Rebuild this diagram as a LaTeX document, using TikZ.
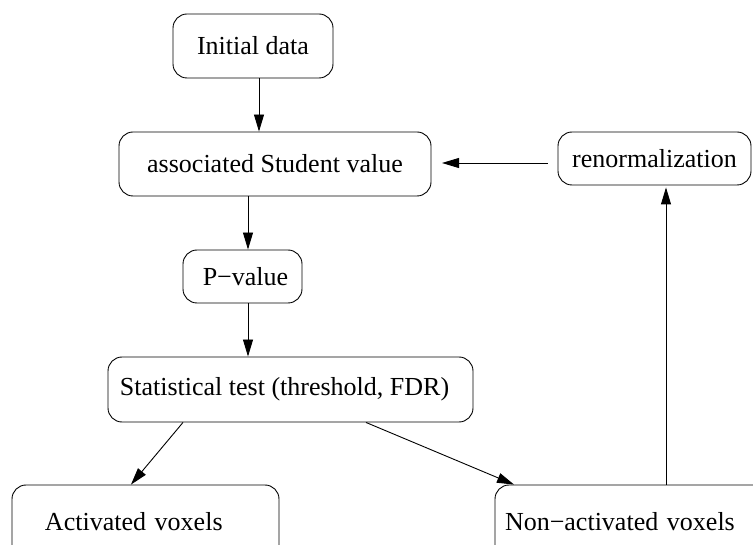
\documentclass[tikz,border=0pt]{standalone}
\usepackage{fontspec}
\setmainfont{Liberation Serif}
\usetikzlibrary{arrows.meta}
\begin{document}
\begin{tikzpicture}[x=1pt,y=-1pt,
  box/.style={draw, rounded corners=14pt, line width=0.9pt, inner sep=0pt,
    font=\fontsize{26}{30}\selectfont},
  arr/.style={line width=0.9pt, -{Triangle[length=17pt,width=10pt]}}]
\useasboundingbox (0,0) rectangle (753,545);
\clip (0,0) rectangle (753,545);
\node[box, minimum width=160pt, minimum height=64pt] (init) at (253,46) {Initial data};
\node[box, minimum width=312pt, minimum height=64pt] (assoc) at (275,164) {associated Student value};
\node[box, minimum width=193pt, minimum height=53pt] (renorm) at (654.5,158.5) {renormalization};
\node[box, minimum width=119pt, minimum height=53pt] (pval) at (242.5,276.5) {\hspace*{6pt}P−value};
\node[box, minimum width=365pt, minimum height=65pt] (stat) at (290.5,389.5) {Statistical test (threshold, FDR)\hspace*{12pt}};
\node[box, minimum width=267pt, minimum height=74pt, text width=237pt, align=left] (act) at (145.5,522) {\hspace*{18pt}Activated voxels};
\node[box, minimum width=280pt, minimum height=74pt, text width=260pt, align=left] (nonact) at (635,522) {Non−activated voxels};
\draw[arr] (init.south -| 259,0) -- (assoc.north -| 259,0);
\draw[arr] (assoc.south -| 248,0) -- (pval.north -| 248,0);
\draw[arr] (pval.south -| 248,0) -- (stat.north -| 248,0);
\draw[arr] (stat.south -| 183,0) -- (act.north -| 131,0);
\draw[arr] (stat.south -| 366,0) -- (nonact.north -| 514,0);
\draw[arr] (nonact.north -| 666,0) -- ([yshift=-2pt]renorm.south -| 666,0);
\coordinate (tipA) at (442,163);
\draw[arr] ([xshift=-10pt]renorm.west |- tipA) -- (tipA);
\end{tikzpicture}
\end{document}
